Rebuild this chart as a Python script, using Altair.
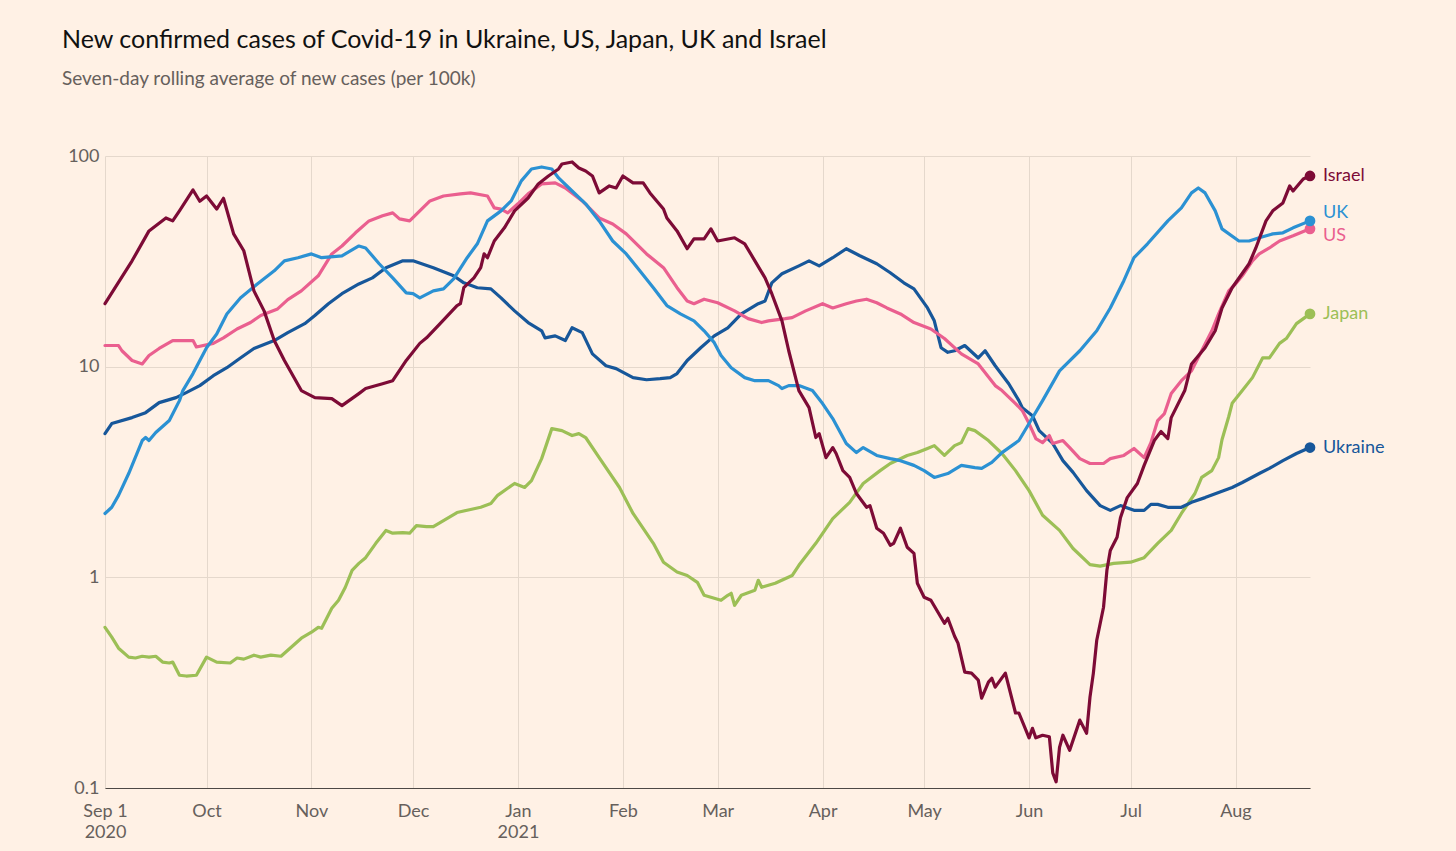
import altair as alt
import pandas as pd

START = "2020-09-01"

israel_days = [0, 8, 13, 18, 20, 22, 26, 28, 30, 33, 35, 38, 41, 44, 47, 50, 53, 58, 62, 67, 70, 75, 77, 82, 85, 89, 93, 95, 99, 104, 105, 106, 109, 111, 112, 113, 115, 118, 121, 125, 128, 131, 134, 135, 138, 140, 142, 144, 146, 149, 151, 153, 156, 159, 161, 165, 166, 169, 172, 174, 177, 179, 181, 186, 189, 192, 195, 197, 200, 202, 205, 208, 210, 211, 213, 215, 216, 218, 220, 222, 225, 226, 228, 230, 232, 233, 235, 237, 239, 240, 242, 244, 248, 249, 251, 252, 254, 256, 258, 259, 261, 262, 263, 266, 269, 270, 273, 274, 275, 277, 279, 280, 281, 282, 283, 285, 288, 290, 291, 292, 293, 295, 296, 297, 299, 300, 302, 305, 307, 310, 312, 314, 315, 319, 321, 325, 328, 330, 333, 338, 340, 343, 345, 348, 350, 351, 354, 356]
israel_vals = [19.9, 31.8, 44.1, 50.8, 49.2, 54.9, 69, 61, 64.6, 56, 63, 42.7, 35.5, 22.9, 18.4, 13.3, 10.7, 7.7, 7.13, 7.05, 6.53, 7.45, 7.87, 8.3, 8.58, 10.7, 12.9, 13.7, 16.0, 19.5, 19.9, 23.7, 26.4, 29.5, 34.3, 32.9, 39.5, 45.6, 54.9, 63.2, 73.7, 80.4, 86.8, 91.6, 93.7, 87.7, 84.9, 80.4, 66.8, 72.1, 70.5, 80.4, 74.5, 74.5, 66.8, 56, 50.8, 44.1, 36.3, 40.4, 40.4, 45.1, 39.5, 40.9, 38.3, 31.8, 26.4, 22.2, 16.5, 11.9, 7.7, 6.39, 4.61, 4.81, 3.70, 4.13, 3.87, 3.21, 2.98, 2.50, 2.15, 2.19, 1.71, 1.62, 1.42, 1.45, 1.71, 1.39, 1.30, 0.937, 0.804, 0.778, 0.605, 0.639, 0.525, 0.487, 0.355, 0.351, 0.325, 0.267, 0.318, 0.332, 0.301, 0.351, 0.227, 0.227, 0.173, 0.192, 0.173, 0.178, 0.175, 0.118, 0.107, 0.156, 0.178, 0.151, 0.210, 0.182, 0.270, 0.351, 0.503, 0.721, 1.08, 1.34, 1.55, 1.92, 2.39, 2.79, 3.40, 4.46, 4.92, 4.56, 5.73, 7.7, 10.3, 12.3, 14.8, 19.0, 23.7, 30.8, 36.6, 49.2, 54.9, 59.9, 72.1, 68.2, 77.8, 80.4]

uk_days = [0, 2, 4, 7, 8, 11, 12, 13, 15, 19, 22, 23, 26, 30, 33, 36, 40, 45, 50, 53, 57, 61, 64, 70, 75, 77, 81, 85, 89, 91, 93, 97, 100, 103, 107, 110, 113, 117, 120, 123, 126, 129, 132, 134, 138, 142, 146, 150, 154, 158, 162, 166, 170, 174, 177, 180, 182, 185, 189, 192, 196, 199, 200, 202, 205, 209, 212, 215, 219, 222, 224, 228, 232, 235, 239, 242, 245, 249, 253, 257, 259, 262, 265, 270, 273, 277, 282, 288, 293, 297, 301, 304, 308, 314, 318, 321, 323, 325, 328, 330, 335, 338, 341, 345, 348, 351, 356]
uk_vals = [2.01, 2.15, 2.45, 3.11, 3.40, 4.46, 4.61, 4.46, 4.87, 5.55, 6.90, 7.7, 9.27, 12.3, 14.3, 17.8, 21.2, 24.7, 28.5, 31.8, 32.9, 34.3, 32.9, 33.6, 37.4, 36.6, 30.8, 26.4, 22.4, 22.2, 21.2, 22.9, 23.4, 26.1, 32.9, 38.3, 49.2, 54.9, 61.2, 76.2, 86.8, 88.7, 86.8, 78.7, 68.2, 59.3, 49.2, 39.5, 34.3, 28.5, 23.7, 19.5, 17.8, 16.5, 14.8, 13.0, 11.3, 9.89, 8.87, 8.58, 8.58, 8.13, 7.87, 8.13, 8.13, 7.7, 6.68, 5.67, 4.32, 3.91, 4.13, 3.79, 3.66, 3.58, 3.40, 3.21, 2.98, 3.11, 3.40, 3.32, 3.29, 3.51, 3.91, 4.46, 5.37, 6.90, 9.55, 11.9, 14.8, 19.0, 25.6, 32.9, 38.3, 49.2, 56.7, 66.8, 70.5, 66.8, 54.9, 45.1, 39.5, 39.5, 40.9, 42.7, 43.2, 45.6, 49.2]

us_days = [0, 4, 5, 8, 11, 13, 16, 20, 26, 27, 32, 35, 39, 43, 46, 51, 54, 58, 63, 67, 70, 74, 78, 82, 85, 87, 90, 93, 96, 100, 105, 108, 113, 115, 117, 119, 122, 125, 129, 133, 136, 141, 146, 150, 154, 160, 165, 169, 172, 174, 177, 181, 186, 190, 194, 196, 201, 203, 207, 212, 215, 219, 222, 225, 228, 231, 235, 239, 244, 248, 253, 258, 263, 265, 269, 271, 273, 275, 277, 279, 280, 283, 285, 288, 291, 295, 297, 301, 304, 307, 309, 311, 313, 315, 318, 321, 324, 327, 329, 332, 334, 336, 339, 341, 344, 347, 351, 356]
us_vals = [12.6, 12.6, 11.9, 10.7, 10.3, 11.3, 12.2, 13.3, 13.3, 12.4, 12.9, 13.7, 15.1, 16.2, 17.5, 18.8, 20.8, 22.9, 27.0, 34.3, 37.4, 43.2, 49.2, 52.0, 53.7, 50.3, 49.2, 54.9, 61.2, 64.6, 66.1, 66.8, 64.6, 56.7, 56, 53.7, 59.3, 66.1, 73.7, 74.5, 70.5, 61.2, 50.8, 47.6, 42.7, 34.3, 29.5, 23.7, 20.5, 19.9, 20.9, 20.1, 18.4, 16.9, 16.2, 16.5, 16.9, 17.1, 18.4, 19.9, 19.0, 19.9, 20.5, 20.9, 20.1, 19.0, 17.8, 16.2, 15.1, 13.6, 11.5, 10.3, 8.13, 7.7, 6.68, 6.19, 5.37, 4.56, 4.36, 4.71, 4.32, 4.46, 4.13, 3.66, 3.47, 3.47, 3.66, 3.79, 4.09, 3.70, 4.36, 5.55, 5.99, 7.45, 8.58, 9.55, 11.9, 14.8, 17.8, 22.9, 24.7, 27.0, 31.8, 34.3, 36.6, 39.5, 41.8, 45.1]

ukraine_days = [0, 2, 8, 12, 16, 21, 24, 28, 32, 36, 40, 44, 50, 54, 59, 62, 66, 70, 75, 79, 83, 88, 91, 97, 103, 106, 110, 114, 117, 121, 125, 129, 130, 133, 136, 138, 141, 144, 148, 151, 156, 160, 164, 167, 169, 172, 176, 180, 184, 188, 193, 195, 197, 200, 205, 208, 211, 215, 219, 223, 228, 232, 236, 239, 243, 245, 247, 249, 251, 254, 258, 260, 263, 267, 270, 271, 274, 276, 280, 283, 286, 290, 294, 297, 300, 304, 307, 309, 311, 314, 318, 321, 325, 329, 333, 336, 341, 344, 348, 352, 356]
ukraine_vals = [4.81, 5.37, 5.73, 6.05, 6.75, 7.13, 7.53, 8.13, 9.06, 9.89, 11.0, 12.2, 13.3, 14.5, 16.0, 17.5, 19.9, 22.2, 24.7, 26.4, 29.5, 31.8, 31.8, 29.5, 27.0, 25.0, 23.7, 23.4, 21.2, 18.4, 16.2, 14.8, 13.7, 14.0, 13.3, 15.3, 14.5, 11.5, 10.1, 9.79, 8.87, 8.67, 8.77, 8.87, 9.27, 10.7, 12.3, 14.0, 15.3, 17.8, 19.9, 20.5, 25.0, 27.6, 30.1, 31.8, 30.1, 32.9, 36.3, 33.6, 30.8, 27.9, 25.0, 23.4, 19.0, 16.5, 12.3, 11.7, 11.9, 12.6, 11.0, 11.9, 10.1, 8.30, 6.90, 6.39, 5.85, 4.97, 4.32, 3.58, 3.15, 2.58, 2.19, 2.08, 2.19, 2.08, 2.08, 2.22, 2.22, 2.15, 2.15, 2.27, 2.39, 2.53, 2.67, 2.82, 3.11, 3.29, 3.58, 3.87, 4.13]

japan_days = [0, 2, 4, 7, 9, 11, 13, 15, 17, 19, 20, 22, 24, 27, 30, 33, 37, 39, 41, 44, 46, 49, 52, 54, 58, 61, 63, 64, 67, 69, 71, 73, 75, 77, 80, 83, 85, 88, 90, 92, 95, 97, 101, 104, 108, 111, 114, 116, 121, 124, 126, 129, 132, 135, 138, 140, 142, 146, 152, 156, 162, 165, 169, 172, 175, 177, 182, 184, 185, 186, 188, 192, 193, 194, 198, 203, 205, 210, 215, 220, 224, 229, 232, 237, 240, 243, 245, 248, 251, 253, 255, 257, 261, 265, 269, 273, 277, 282, 286, 291, 294, 298, 303, 307, 311, 315, 318, 322, 324, 327, 329, 330, 332, 333, 336, 339, 342, 344, 347, 349, 352, 356]
japan_vals = [0.579, 0.520, 0.461, 0.418, 0.414, 0.422, 0.418, 0.422, 0.396, 0.392, 0.396, 0.343, 0.340, 0.343, 0.418, 0.396, 0.392, 0.414, 0.409, 0.427, 0.418, 0.427, 0.422, 0.451, 0.514, 0.549, 0.579, 0.573, 0.713, 0.778, 0.897, 1.08, 1.165, 1.24, 1.45, 1.67, 1.62, 1.63, 1.62, 1.76, 1.74, 1.74, 1.90, 2.03, 2.10, 2.15, 2.24, 2.45, 2.79, 2.67, 2.88, 3.66, 5.08, 4.97, 4.71, 4.81, 4.61, 3.70, 2.67, 2.01, 1.45, 1.18, 1.06, 1.02, 0.947, 0.822, 0.778, 0.822, 0.840, 0.737, 0.822, 0.868, 0.968, 0.897, 0.937, 1.02, 1.14, 1.45, 1.90, 2.27, 2.79, 3.21, 3.47, 3.79, 3.91, 4.09, 4.22, 3.79, 4.22, 4.36, 5.08, 4.97, 4.46, 3.87, 3.21, 2.58, 1.97, 1.67, 1.37, 1.15, 1.13, 1.165, 1.18, 1.24, 1.45, 1.67, 2.01, 2.50, 2.98, 3.21, 3.70, 4.5, 5.8, 6.7, 7.7, 8.87, 11.0, 11.0, 12.9, 13.6, 16.0, 17.8]

# drawing order: first drawn at the bottom
series = [
    ("Japan", japan_days, japan_vals),
    ("Ukraine", ukraine_days, ukraine_vals),
    ("US", us_days, us_vals),
    ("UK", uk_days, uk_vals),
    ("Israel", israel_days, israel_vals),
]
colors = {
    "Israel": "#7d0b36",
    "UK": "#2b91d3",
    "US": "#ea5f8f",
    "Japan": "#9cbf56",
    "Ukraine": "#17579a",
}
label_dy = {"UK": -8, "US": 7}

base = pd.Timestamp(START)
rows = []
for name, days, vals in series:
    for d, v in zip(days, vals):
        rows.append({"series": name,
                     "date": (base + pd.Timedelta(days=d)).strftime("%Y-%m-%d"),
                     "value": v})
df = pd.DataFrame(rows)

FONT = "Lato"
GRID = "#e5d8cc"
LABEL = "#66605c"

tick_values = [alt.DateTime(year=2020, month=m, date=1, utc=True) for m in range(9, 13)] + \
              [alt.DateTime(year=2021, month=m, date=1, utc=True) for m in range(1, 9)]

x_scale = alt.Scale(type="utc", nice=False,
                    domain=[alt.DateTime(year=2020, month=9, date=1, utc=True),
                            alt.DateTime(year=2021, month=8, date=23, utc=True)])
y_scale = alt.Scale(type="log", domain=[0.1, 100], nice=False)

label_expr = ("utcFormat(datum.value, '%b') == 'Sep' ? ['Sep 1', utcFormat(datum.value, '%Y')] : "
              "utcFormat(datum.value, '%b') == 'Jan' ? ['Jan', utcFormat(datum.value, '%Y')] : "
              "utcFormat(datum.value, '%b')")

x_axis = alt.Axis(values=tick_values, labelExpr=label_expr, title=None, grid=True,
                  gridColor=GRID, gridWidth=1, ticks=False, domain=True,
                  domainColor="#4d4845", domainWidth=1.2, labelFont=FONT,
                  labelFontSize=18, labelColor=LABEL, labelPadding=14,
                  labelLineHeight=21, labelFlush=False, labelOverlap=False)
y_axis = alt.Axis(values=[0.1, 1, 10, 100], format="~g", title=None, grid=True,
                  gridColor=GRID, gridWidth=1, ticks=False, domain=False,
                  labelFont=FONT, labelFontSize=18, labelColor=LABEL,
                  labelPadding=6)

enc_x = alt.X("date:T", scale=x_scale, axis=x_axis)
enc_y = alt.Y("value:Q", scale=y_scale, axis=y_axis)

layers = []
for name, _, _ in series:
    sub = alt.Chart(df).transform_filter(alt.datum.series == name)
    layers.append(sub.mark_line(color=colors[name], strokeWidth=3.2,
                                strokeJoin="round", strokeCap="round")
                  .encode(x=enc_x, y=enc_y))

last_rows = []
for name, days, vals in series:
    last_rows.append({"series": name,
                      "date": (base + pd.Timedelta(days=days[-1])).strftime("%Y-%m-%d"),
                      "value": vals[-1]})
last_df = pd.DataFrame(last_rows)

for name, _, _ in series:
    sub = alt.Chart(last_df).transform_filter(alt.datum.series == name)
    layers.append(sub.mark_circle(color=colors[name], size=115, opacity=1)
                  .encode(x=enc_x, y=enc_y))
    layers.append(sub.mark_text(color=colors[name], align="left", baseline="middle",
                                dx=13, dy=label_dy.get(name, 0), font=FONT,
                                fontSize=18).encode(x=enc_x, y=enc_y, text="series:N"))

chart = alt.layer(*layers).properties(
    width=1205,
    height=632,
    autosize=alt.AutoSizeParams(type="none"),
    padding={"left": 105, "top": 156, "right": 146, "bottom": 63},
    background="#fff1e5",
    title=alt.Title(
        text="New confirmed cases of Covid-19 in Ukraine, US, Japan, UK and Israel",
        subtitle="Seven-day rolling average of new cases (per 100k)",
        anchor="start", frame="group", dx=-43, offset=58,
        font=FONT, fontSize=25, fontWeight="normal", color="#111111",
        subtitleFont=FONT, subtitleFontSize=19, subtitleColor=LABEL,
        subtitlePadding=17,
    ),
).configure_view(strokeWidth=0)

chart.save("out.html", embed_options={"renderer": "svg", "actions": False})
